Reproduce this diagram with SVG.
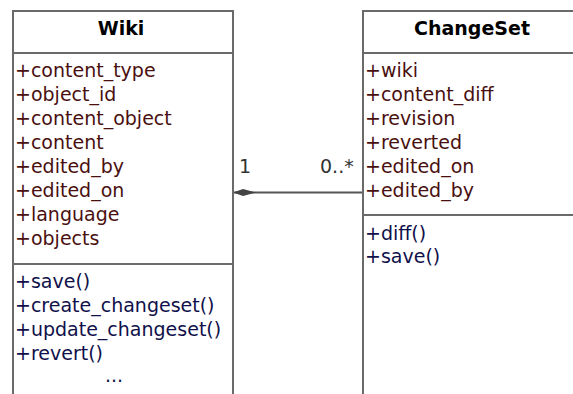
<svg xmlns="http://www.w3.org/2000/svg" width="573" height="394" viewBox="0 0 573 394">
<style>
.box{fill:#fff;stroke:#6a6a6a;stroke-width:2}
.sep{stroke:#6a6a6a;stroke-width:2}
.t{font-family:"DejaVu Sans",sans-serif;font-size:19px;font-weight:bold;fill:#000;text-anchor:middle}
.a{font-family:"DejaVu Sans",sans-serif;font-size:19px;fill:#4a1010}
.o{font-family:"DejaVu Sans",sans-serif;font-size:19px;fill:#10104a}
.l{font-family:"DejaVu Sans",sans-serif;font-size:19px;fill:#333}
</style>
<rect width="573" height="394" fill="#fff"/>
<g id="connectors">
<line x1="233" y1="192.5" x2="363" y2="192.5" stroke="#555" stroke-width="2"/>
<polygon points="233,192.5 243,189 256,192.5 243,196" fill="#444"/>
<text class="l" x="239" y="173">1</text>
<text class="l" x="320" y="173">0..*</text>
</g>
<g id="wiki">
<rect class="box" x="13" y="11" width="220" height="400"/>
<line class="sep" x1="13" y1="53" x2="233" y2="53"/>
<line class="sep" x1="13" y1="264" x2="233" y2="264"/>
<text class="t" x="121" y="35">Wiki</text>
<text class="a" x="15" y="77">+content_type</text>
<text class="a" x="15" y="101">+object_id</text>
<text class="a" x="15" y="125">+content_object</text>
<text class="a" x="15" y="149">+content</text>
<text class="a" x="15" y="173">+edited_by</text>
<text class="a" x="15" y="197">+edited_on</text>
<text class="a" x="15" y="221">+language</text>
<text class="a" x="15" y="245">+objects</text>
<text class="o" x="15" y="288">+save()</text>
<text class="o" x="15" y="312">+create_changeset()</text>
<text class="o" x="15" y="336">+update_changeset()</text>
<text class="o" x="15" y="360">+revert()</text>
<text class="o" x="114" y="382" text-anchor="middle">...</text>
</g>
<g id="changeset">
<rect class="box" x="363" y="11" width="260" height="400"/>
<line class="sep" x1="363" y1="53" x2="573" y2="53"/>
<line class="sep" x1="363" y1="215" x2="573" y2="215"/>
<text class="t" x="472" y="35">ChangeSet</text>
<text class="a" x="365" y="77">+wiki</text>
<text class="a" x="365" y="101">+content_diff</text>
<text class="a" x="365" y="125">+revision</text>
<text class="a" x="365" y="149">+reverted</text>
<text class="a" x="365" y="173">+edited_on</text>
<text class="a" x="365" y="197">+edited_by</text>
<text class="o" x="365" y="240">+diff()</text>
<text class="o" x="365" y="263">+save()</text>
</g>
</svg>
